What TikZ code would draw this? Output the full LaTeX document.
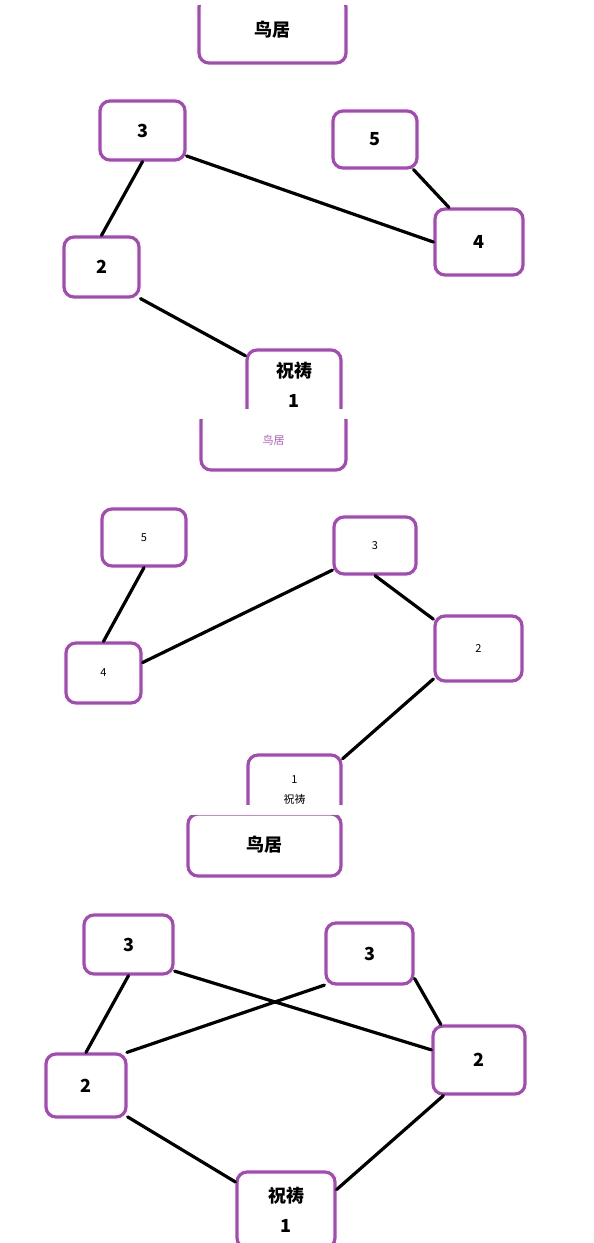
\documentclass[tikz,border=0pt]{standalone}
\usepackage{fontspec}
\setmainfont{Noto Sans CJK SC}
\usepackage{xcolor}
\usepackage{tikz}
\definecolor{boxpurple}{HTML}{A54AB4}
\definecolor{textpurple}{HTML}{B25AC2}

\begin{document}
\begin{tikzpicture}[x=1pt,y=-1pt,
  box/.style={draw=boxpurple,line width=3.2pt,rounded corners=10pt,
              fill=white,inner sep=0pt,align=center},
  big/.style={font=\fontsize{18}{30}\selectfont\bfseries},
  small/.style={font=\fontsize{11}{20}\selectfont},
  edge/.style={line width=3.2pt,line cap=round}]
  \fill[white] (0,0) rectangle (594,1243);
  \useasboundingbox (0,0) rectangle (594,1243);

  % first tree
  \begin{scope}
    \clip (0,5) rectangle (594,408);
    \node[box,big,minimum width=147,minimum height=66] (torA) at (272.5,30) {鸟居};
    \node[box,big,minimum width=85,minimum height=59] (a3) at (142.5,130.5) {3};
    \node[box,big,minimum width=84,minimum height=57] (a5) at (375,139.5) {5};
    \node[box,big,minimum width=88,minimum height=66] (a4) at (479,242) {4};
    \node[box,big,minimum width=75,minimum height=60] (a2) at (101.5,267) {2};
    \node[box,big,minimum width=94,minimum height=70] (a1) at (294,385) {祝祷\\1};
    \draw[edge] (a3.south) -- (a2.north);
    \draw[edge] (a3.-30) -- (a4.west);
    \draw[edge] (a5.-38) -- (a4.131);
    \draw[edge] (a2.-39) -- (a1.149);
  \end{scope}

  % second tree
  \begin{scope}
    \clip (0,419) rectangle (594,804);
    \node[box,small,text=textpurple,minimum width=145,minimum height=60] (torB) at (273.5,440) {鸟居};
    \node[box,small,minimum width=84,minimum height=57] (b5) at (144,537.5) {5};
    \node[box,small,minimum width=82,minimum height=57] (b3) at (375,545.5) {3};
    \node[box,small,minimum width=87,minimum height=65] (b2) at (478.5,648.5) {2};
    \node[box,small,minimum width=75,minimum height=60] (b4) at (103.5,673) {4};
    \node[box,small,minimum width=93,minimum height=70] (b1) at (294.5,790) {1\\祝祷};
    \draw[edge] (b5.south) -- (b4.north);
    \draw[edge] (b4.15) -- (b3.-150);
    \draw[edge] (b3.south) -- (b2.147);
    \draw[edge] (b2.-146) -- (b1.33);
  \end{scope}

  % third tree
  \begin{scope}
    \clip (0,815) rectangle (594,1243);
    \node[box,big,minimum width=153,minimum height=62] (torC) at (264.5,845) {鸟居};
    \node[box,big,minimum width=89,minimum height=59] (c3a) at (128.5,944.5) {3};
    \node[box,big,minimum width=87,minimum height=61] (c3b) at (369.5,953.5) {3};
    \node[box,big,minimum width=92,minimum height=68] (c2b) at (479,1060) {2};
    \node[box,big,minimum width=80,minimum height=63] (c2a) at (86,1085.5) {2};
    \node[box,big,minimum width=98,minimum height=76] (c1) at (286,1210) {祝祷\\1};
    \draw[edge] (c3a.south) -- (c2a.north);
    \draw[edge] (c3a.-30) -- (c2b.168);
    \draw[edge] (c3b.-145) -- (c2a.39);
    \draw[edge] (c3b.-29) -- (c2b.137);
    \draw[edge] (c2a.-37) -- (c1.151);
    \draw[edge] (c2b.-135) -- (c1.22);
  \end{scope}
\end{tikzpicture}
\end{document}
